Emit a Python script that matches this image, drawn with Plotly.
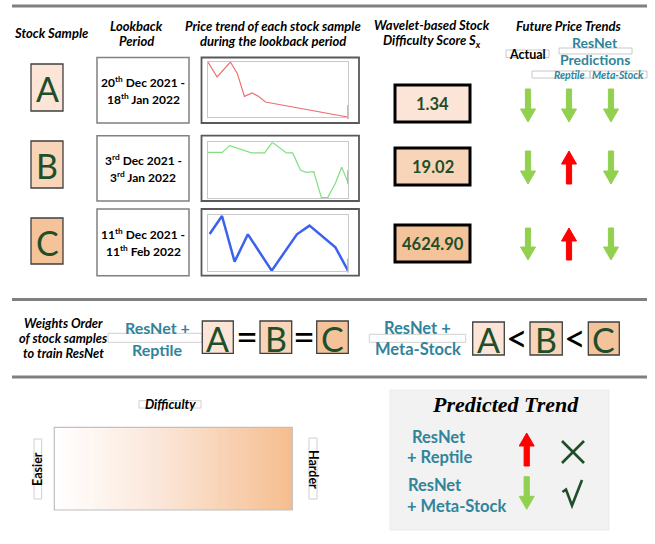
import plotly.graph_objects as go

W, H = 655, 544

# ---------------- data ----------------
samples = ["A", "B", "C"]
lookback_start = ["20<sup>th</sup> Dec 2021 -", "3<sup>rd</sup> Dec 2021 -", "11<sup>th</sup> Dec 2021 -"]
lookback_end = ["18<sup>th</sup> Jan 2022", "3<sup>rd</sup> Jan 2022", "11<sup>th</sup> Feb 2022"]
difficulty_scores = [1.34, 19.02, 4624.90]

price_a_x = [0, 1.3, 3.2, 4.2, 5.2, 6.3, 7.2, 8.2, 20]
price_a_y = [100, 72.7, 100, 78.8, 37.6, 43.6, 37.6, 27.3, 0]
price_b_x = [0, 2.05, 3.1, 6.2, 8.1, 9.2, 11.2, 12.1, 13.2, 14.0, 15.1, 16.2, 17.1, 18.2, 19.1, 20]
price_b_y = [82.1, 82.1, 94, 81, 81, 100, 81, 81, 50.6, 46.4, 47.6, 1.2, 1.2, 26.8, 55.4, 28.6]
price_c_x = [0.24, 2, 3.8, 5.7, 9.1, 12.7, 14.5, 18.2, 20]
price_c_y = [66, 98.2, 16.7, 65.5, 0.6, 65.5, 81, 42.3, 0.6]

actual_trend = ["down", "down", "down"]
reptile_trend = ["down", "up", "up"]
metastock_trend = ["down", "down", "down"]

reptile_order = ["=", "="]
metastock_order = ["<", "<"]

legend_pred = ["up", "down"]
legend_correct = [False, True]

# ---------------- styles ----------------
FONT = "Lato"
TEAL = "#31849B"
DKGREEN = "#1E4E2A"
GREEN_ARROW = "#92D050"
RED_ARROW = "#FF0000"
SAMPLE_FILLS = ["#FCE4D6", "#F8D5B9", "#F5C39A"]
LINE_COLORS = ["#EE7070", "#80E07F", "#3B62EE"]
LINE_WIDTHS = [1.2, 1.2, 2.5]
HDR = 13

fig = go.Figure()
shapes = []
anns = []


def ann(x, y, text, size=12, color="black", family=FONT, angle=0, xanchor="center"):
    anns.append(dict(x=x, y=y, xref="x", yref="y", text=text, showarrow=False,
                     xanchor=xanchor, yanchor="middle", textangle=angle,
                     font=dict(size=size, color=color, family=family)))


def rect(x0, y0, x1, y1, line="#808080", lw=1, fill="rgba(0,0,0,0)", layer="above"):
    shapes.append(dict(type="rect", xref="x", yref="y", x0=x0, y0=y0, x1=x1, y1=y1,
                       line=dict(color=line, width=lw), fillcolor=fill, layer=layer))


def hline(x0, x1, y, color="#808080", w=3):
    shapes.append(dict(type="line", xref="x", yref="y", x0=x0, x1=x1, y0=y, y1=y,
                       line=dict(color=color, width=w)))


def arrow(cx, y0, y1, direction):
    sw, hw, hl = 2.6, 7.5, 13
    color = GREEN_ARROW if direction == "down" else RED_ARROW
    if direction == "down":
        pts = [(cx - sw, y0), (cx + sw, y0), (cx + sw, y1 - hl), (cx + hw, y1 - hl),
               (cx, y1), (cx - hw, y1 - hl), (cx - sw, y1 - hl)]
    else:
        pts = [(cx - sw, y1), (cx + sw, y1), (cx + sw, y0 + hl), (cx + hw, y0 + hl),
               (cx, y0), (cx - hw, y0 + hl), (cx - sw, y0 + hl)]
    path = "M " + " L ".join(f"{px:.1f},{py:.1f}" for px, py in pts) + " Z"
    shapes.append(dict(type="path", xref="x", yref="y", path=path, fillcolor=color,
                       line=dict(color=color, width=1)))


def letter_box(x0, y0, x1, y1, letter, fill):
    rect(x0, y0, x1, y1, line="#3F3F3F", lw=1.3, fill=fill)
    ann((x0 + x1) / 2, (y0 + y1) / 2 + 1, letter, size=34, color=DKGREEN)


# ---------------- separators ----------------
hline(12, 647, 6)
hline(12, 647, 299.5)
hline(12, 647, 377)

# ---------------- headers ----------------
ann(51, 33, "<b><i>Stock Sample</i></b>", HDR)
ann(136, 26, "<b><i>Lookback</i></b>", HDR)
ann(136, 41, "<b><i>Period</i></b>", HDR)
ann(273, 26, "<b><i>Price trend of each stock sample</i></b>", HDR)
ann(273, 41, "<b><i>during the lookback period</i></b>", HDR)
ann(432, 25, "<b><i>Wavelet-based Stock</i></b>", HDR)
ann(432, 41, "<b><i>Difficulty Score S<sub>x</sub></i></b>", HDR)
ann(569, 26, "<b><i>Future Price Trends</i></b>", HDR)

rect(506, 50, 549, 57.5, line="#C8C8C8", lw=1)
ann(527.5, 54, "<b>Actual</b>", 12.5)
rect(559, 48, 632, 54, line="#C8C8C8", lw=1)
ann(595, 42, "<b>ResNet</b>", 14, TEAL)
ann(595, 59, "<b>Predictions</b>", 14, TEAL)
rect(532, 71, 590, 78, line="#C8C8C8", lw=1)
rect(590, 71, 647, 78, line="#C8C8C8", lw=1)
ann(569, 75, "<b><i>Reptile</i></b>", 10.5, TEAL)
ann(618, 75, "<b><i>Meta-Stock</i></b>", 10.5, TEAL)

# ---------------- rows ----------------
row_box_y = [(57.5, 123), (135.7, 201), (209, 275.7)]
letter_y = [(64, 111), (141, 188), (218, 264)]
score_y = [(85, 122), (148, 185), (225, 262)]
arrow_y = [(89, 122), (151, 184), (228, 260)]
inner_y = [(62, 117), (142.3, 198.3), (215, 271)]
arrow_cols = [528, 569, 611]

for i, s in enumerate(samples):
    ly0, ly1 = letter_y[i]
    letter_box(31, ly0, 63, ly1, s, SAMPLE_FILLS[i])
    by0, by1 = row_box_y[i]
    rect(97, by0, 189, by1, line="#808080", lw=1.5)
    cy = (by0 + by1) / 2
    ann(143, cy - 8.5, "<b>" + lookback_start[i] + "</b>", 12)
    ann(143, cy + 8.5, "<b>" + lookback_end[i] + "</b>", 12)
    rect(201.5, by0, 359, by1, line="#595959", lw=1.8)
    sy0, sy1 = score_y[i]
    rect(395, sy0, 470, sy1, line="black", lw=3, fill=SAMPLE_FILLS[i])
    ann(432.5, (sy0 + sy1) / 2 + 0.5, f"<b>{difficulty_scores[i]:.2f}</b>", 16.5, DKGREEN)
    ay0, ay1 = arrow_y[i]
    for cx, tr in zip(arrow_cols, [actual_trend[i], reptile_trend[i], metastock_trend[i]]):
        arrow(cx, ay0, ay1, tr)

# ---------------- weights order row ----------------
ann(63, 322.7, "<b><i>Weights Order</i></b>", 12.8)
ann(63, 338.3, "<b><i>of stock samples</i></b>", 12.8)
ann(63, 353.3, "<b><i>to train ResNet</i></b>", 12.8)

rect(108, 333.3, 202, 342.3, line="#D0D0D0", lw=1)
ann(157, 327.7, "<b>ResNet +</b>", 16, TEAL)
ann(157, 349.3, "<b>Reptile</b>", 16, TEAL)
rep_boxes = [(202.3, 233.3), (260, 291.7), (316.7, 348.3)]
for j, (x0, x1) in enumerate(rep_boxes):
    letter_box(x0, 321, x1, 353.3, samples[j], SAMPLE_FILLS[j])
for j, sym in enumerate(reptile_order):
    ann((rep_boxes[j][1] + rep_boxes[j + 1][0]) / 2, 336, sym, 38, "black")

rect(369.3, 334.3, 465.7, 342.3, line="#D0D0D0", lw=1)
ann(417.5, 327.7, "<b>ResNet +</b>", 16.5, TEAL)
ann(418, 349, "<b>Meta-Stock</b>", 16.5, TEAL)
ms_boxes = [(472.7, 504.3), (530, 562.3), (588.3, 619.3)]
for j, (x0, x1) in enumerate(ms_boxes):
    letter_box(x0, 322, x1, 355, samples[j], SAMPLE_FILLS[j])
for j, sym in enumerate(metastock_order):
    ann((ms_boxes[j][1] + ms_boxes[j + 1][0]) / 2, 337, sym, 38, "black")

# ---------------- difficulty gradient ----------------
rect(139, 400.7, 201, 408, line="#D0D0D0", lw=1)
ann(170.7, 404.3, "<b><i>Difficulty</i></b>", 13)
rect(34, 439, 41.7, 499, line="#D0D0D0", lw=1)
ann(37.7, 469.3, "<b>Easier</b>", 12.5, angle=-90)
rect(309, 438, 317, 499, line="#D0D0D0", lw=1)
ann(313.3, 469.3, "<b>Harder</b>", 12.5, angle=90)
rect(54.3, 427.3, 292.3, 510, line="#BFBFBF", lw=1.2)

# ---------------- predicted trend legend ----------------
rect(390, 390, 609, 530, line="#EBEBEB", lw=1, fill="#F2F2F2")
ann(505.8, 404, "<b><i>Predicted Trend</i></b>", 22, "black", family="Liberation Serif")
ann(439, 436.7, "<b>ResNet</b>", 16.5, TEAL)
ann(439, 457, "<b>+ Reptile</b>", 16.5, TEAL)
ann(435, 485, "<b>ResNet</b>", 16.5, TEAL)
ann(457, 506, "<b>+ Meta-Stock</b>", 16.5, TEAL)
legend_arrow_y = [(433, 466), (476.7, 509.3)]
for k, d in enumerate(legend_pred):
    arrow(526.7, legend_arrow_y[k][0], legend_arrow_y[k][1], d)
    if legend_correct[k]:
        shapes.append(dict(type="path", xref="x", yref="y",
                           path="M 562.5,492 L 566,489.5 L 572,505.5 L 582,480",
                           line=dict(color=DKGREEN, width=2.6)))
    else:
        for (xa, ya, xb, yb) in [(562, 441, 584, 463), (584, 441, 562, 463)]:
            shapes.append(dict(type="line", xref="x", yref="y", x0=xa, y0=ya, x1=xb, y1=yb,
                               line=dict(color=DKGREEN, width=2.6)))

# ---------------- overlay axis ----------------
fig.add_trace(go.Scatter(x=[0, W], y=[0, H], mode="markers", marker=dict(opacity=0),
                         hoverinfo="skip", showlegend=False, xaxis="x", yaxis="y"))

layout_axes = dict(
    xaxis=dict(range=[0, W], domain=[0, 1], visible=False, fixedrange=True),
    yaxis=dict(range=[H, 0], domain=[0, 1], visible=False, fixedrange=True),
)

# ---------------- mini price charts ----------------
series = [(price_a_x, price_a_y), (price_b_x, price_b_y), (price_c_x, price_c_y)]
for i, (px, py) in enumerate(series):
    n = i + 2
    xa, ya = f"x{n}", f"y{n}"
    fig.add_trace(go.Scatter(x=px, y=py, mode="lines", xaxis=xa, yaxis=ya,
                             line=dict(color=LINE_COLORS[i], width=LINE_WIDTHS[i]),
                             hoverinfo="skip", showlegend=False))
    # flag at the last observation
    fig.add_trace(go.Scatter(x=[px[-1]], y=[py[-1] + 9], mode="markers", xaxis=xa, yaxis=ya,
                             marker=dict(symbol="line-ns", size=10, line=dict(color="#A6A6A6", width=1.5)),
                             cliponaxis=False, hoverinfo="skip", showlegend=False))
    fig.add_trace(go.Scatter(x=[px[-1] + 0.5], y=[py[-1] + 15], mode="markers", xaxis=xa, yaxis=ya,
                             marker=dict(symbol="triangle-right", size=8, color="#FF2020"),
                             cliponaxis=False, hoverinfo="skip", showlegend=False))
    y0, y1 = inner_y[i]
    layout_axes[f"xaxis{n}"] = dict(domain=[208 / W, 348 / W], range=[0, 20], anchor=ya,
                                    showline=True, mirror=True, linecolor="#C8C8C8", linewidth=1,
                                    showgrid=False, zeroline=False, showticklabels=False, ticks="",
                                    fixedrange=True)
    layout_axes[f"yaxis{n}"] = dict(domain=[1 - y1 / H, 1 - y0 / H], range=[0, 100], anchor=xa,
                                    showline=True, mirror=True, linecolor="#C8C8C8", linewidth=1,
                                    showgrid=False, zeroline=False, showticklabels=False, ticks="",
                                    fixedrange=True)

# gradient bar (colour ramp easier -> harder)
ramp = [list(range(60))]
fig.add_trace(go.Heatmap(z=ramp, xaxis="x5", yaxis="y5", showscale=False, hoverinfo="skip",
                         colorscale=[[0, "#FFFFFF"], [0.45, "#FBE6D8"], [1, "#F5BE8F"]]))
layout_axes["xaxis5"] = dict(domain=[54.3 / W, 292.3 / W], visible=False, anchor="y5",
                             range=[-0.5, 59.5], fixedrange=True)
layout_axes["yaxis5"] = dict(domain=[1 - 510 / H, 1 - 427.3 / H], visible=False, anchor="x5",
                             range=[-0.5, 0.5], fixedrange=True)

fig.update_layout(
    width=W, height=H, autosize=False,
    margin=dict(l=0, r=0, t=0, b=0, pad=0),
    paper_bgcolor="white", plot_bgcolor="rgba(0,0,0,0)",
    shapes=shapes, annotations=anns, showlegend=False,
    **layout_axes,
)

fig.write_html("out.html", config={"displayModeBar": False},
               post_script="document.body.style.margin='0';")
